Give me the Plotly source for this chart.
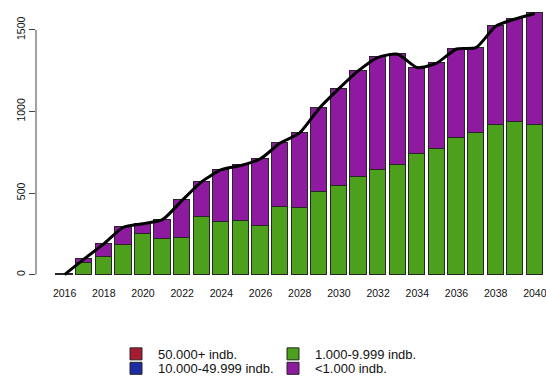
import plotly.graph_objects as go

years = list(range(2016, 2041))
tick_years = list(range(2016, 2041, 2))
tick_vals_y = [0, 500, 1000, 1500]

# Series (number of units per size class)
s_50000 = [0] * 25
s_10000 = [0] * 25
s_1000 = [0, 72, 106, 179, 249, 220, 226, 351, 320, 326, 300, 416, 410,
          504, 543, 598, 644, 669, 740, 767, 840, 865, 920, 936, 914]
s_lt1000 = [3, 24, 82, 111, 63, 117, 229, 219, 323, 343, 410, 390, 459,
            516, 597, 652, 688, 682, 529, 530, 543, 526, 602, 631, 687]
total = [a + b + c + d for a, b, c, d in zip(s_50000, s_10000, s_1000, s_lt1000)]
total[0] = 0

names = ["50.000+ indb.", "10.000-49.999 indb.", "1.000-9.999 indb.", "<1.000 indb."]
colors = ["#A51C30", "#1C2DA3", "#4DA01C", "#8E1A9F"]

W, H = 546, 376
L, R, T, B = 36, 0, 3, 90.5
plot_w = W - L - R
plot_h = H - T - B

def px_x(px):
    return (px - L) / plot_w

def px_y(py):
    return (H - B - py) / plot_h

fig = go.Figure()
series = [(s_1000, 2, "legend3"), (s_lt1000, 3, "legend4"),
          (s_50000, 0, "legend"), (s_10000, 1, "legend2")]
for vals, idx, leg in series:
    fig.add_trace(go.Bar(
        x=years, y=vals, name=names[idx],
        marker=dict(color=colors[idx], line=dict(color="#262626", width=1)),
        width=0.83, legend=leg, showlegend=True,
    ))

fig.add_trace(go.Scatter(
    x=years, y=total, mode="lines", showlegend=False,
    line=dict(color="black", width=3, shape="spline", smoothing=0.6),
))

legend_font = dict(family="Liberation Sans, Arial, sans-serif", size=13, color="#111")
def leg(xpx, ypx):
    return dict(x=px_x(xpx), y=px_y(ypx), xanchor="left", yanchor="top",
                bgcolor="rgba(0,0,0,0)", font=legend_font, itemclick=False,
                itemwidth=34)

fig.update_layout(
    width=W, height=H,
    margin=dict(l=L, r=R, t=T, b=B, pad=0, autoexpand=False),
    paper_bgcolor="white", plot_bgcolor="white",
    barmode="stack", bargap=0,
    font=dict(family="Liberation Sans, Arial, sans-serif", size=10.5, color="#111"),
    xaxis=dict(range=[2014.54, 2040.57], tickvals=tick_years, showgrid=False,
               zeroline=False, showline=False, ticks="",
               tickfont=dict(size=10.5), automargin=False,
               ticklabeloverflow="allow"),
    yaxis=dict(range=[-64, 1665], tickvals=tick_vals_y, showgrid=False,
               zeroline=False, showline=False, ticks="outside", ticklen=6,
               tickcolor="#444", tickwidth=1, tickangle=-90,
               tickfont=dict(size=10.5), automargin=False),
    legend=leg(114, 339.5),
    legend2=leg(114, 354),
    legend3=leg(271, 339.5),
    legend4=leg(271, 354),
    shapes=[dict(type="line", xref="paper", yref="y", x0=0, x1=0, y0=0, y1=1500,
                 line=dict(color="#444", width=1))],
)

fig.write_html("out.html", config={"displayModeBar": False},
               post_script="document.body.style.margin='0';document.body.style.overflow='hidden';")
